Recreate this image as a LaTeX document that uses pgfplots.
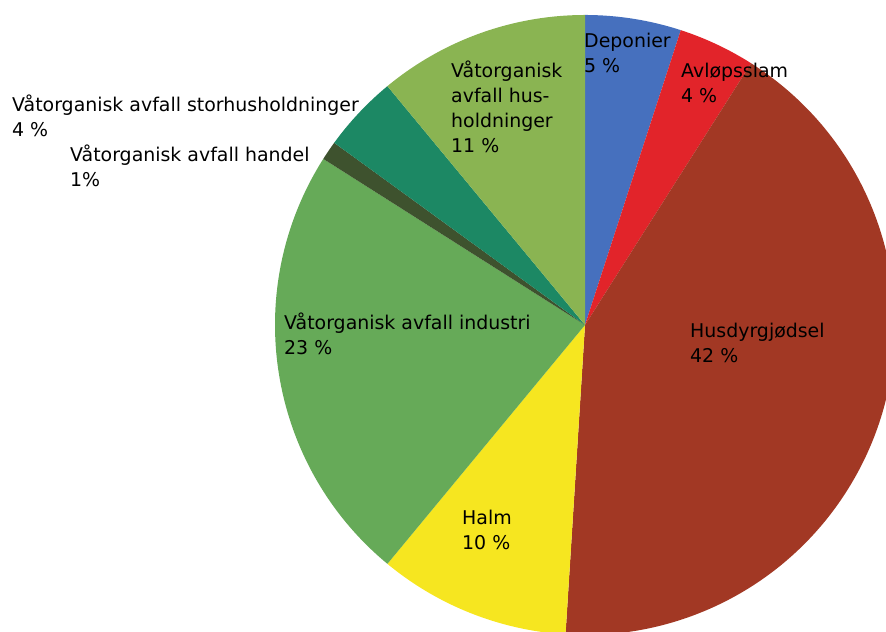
\documentclass[border=0pt]{standalone}
\usepackage{pgfplots}
\pgfplotsset{compat=1.18}
\usepackage{fontspec}
\setmainfont{DejaVu Sans}
\definecolor{cDep}{RGB}{70,112,190}
\definecolor{cAvl}{RGB}{226,36,42}
\definecolor{cHus}{RGB}{162,56,36}
\definecolor{cHalm}{RGB}{246,230,32}
\definecolor{cInd}{RGB}{102,170,88}
\definecolor{cHan}{RGB}{62,82,46}
\definecolor{cSto}{RGB}{28,136,100}
\definecolor{cHh}{RGB}{138,180,82}
% #1 = cumulative share before slice (%), #2 = share (%), #3 = colour
\newcommand{\slice}[3]{%
  \fill[#3] (axis cs:585,307) -- ++({90-3.6*(#1)}:310bp)
    arc[start angle={90-3.6*(#1)}, end angle={90-3.6*(#1+#2)}, radius=310bp] -- cycle;}
\newcommand{\lab}[3]{\node[anchor=base west, inner sep=0pt, font=\fontsize{19}{20}\selectfont] at (axis cs:#1,{632-#2}) {#3};}
\begin{document}
\begin{tikzpicture}
\begin{axis}[
  x=1bp, y=1bp, scale only axis,
  xmin=0, xmax=886, ymin=0, ymax=632,
  hide axis, clip=true,
]
\addplot[draw=none] coordinates {(0,0) (886,632)};
\slice{0}{5}{cDep}
\slice{5}{4}{cAvl}
\slice{9}{42}{cHus}
\slice{51}{10}{cHalm}
\slice{61}{23}{cInd}
\slice{84}{1}{cHan}
\slice{85}{4}{cSto}
\slice{89}{11}{cHh}
\lab{584}{48}{Deponier}
\lab{584}{73}{5 \%}
\lab{681}{78}{Avløpsslam}
\lab{681}{103}{4 \%}
\lab{451}{78}{Våtorganisk}
\lab{451}{103}{avfall hus-}
\lab{451}{128}{holdninger}
\lab{451}{153}{11 \%}
\lab{12}{112}{Våtorganisk avfall storhusholdninger}
\lab{12}{137}{4 \%}
\lab{70}{162}{Våtorganisk avfall handel}
\lab{70}{187}{1\%}
\lab{284}{330}{Våtorganisk avfall industri}
\lab{284}{355}{23 \%}
\lab{690}{338}{Husdyrgjødsel}
\lab{690}{363}{42 \%}
\lab{462}{525}{Halm}
\lab{462}{550}{10 \%}
\end{axis}
\pgfresetboundingbox
\path[use as bounding box] (current axis.south west) rectangle (current axis.north east);
\end{tikzpicture}
\end{document}
